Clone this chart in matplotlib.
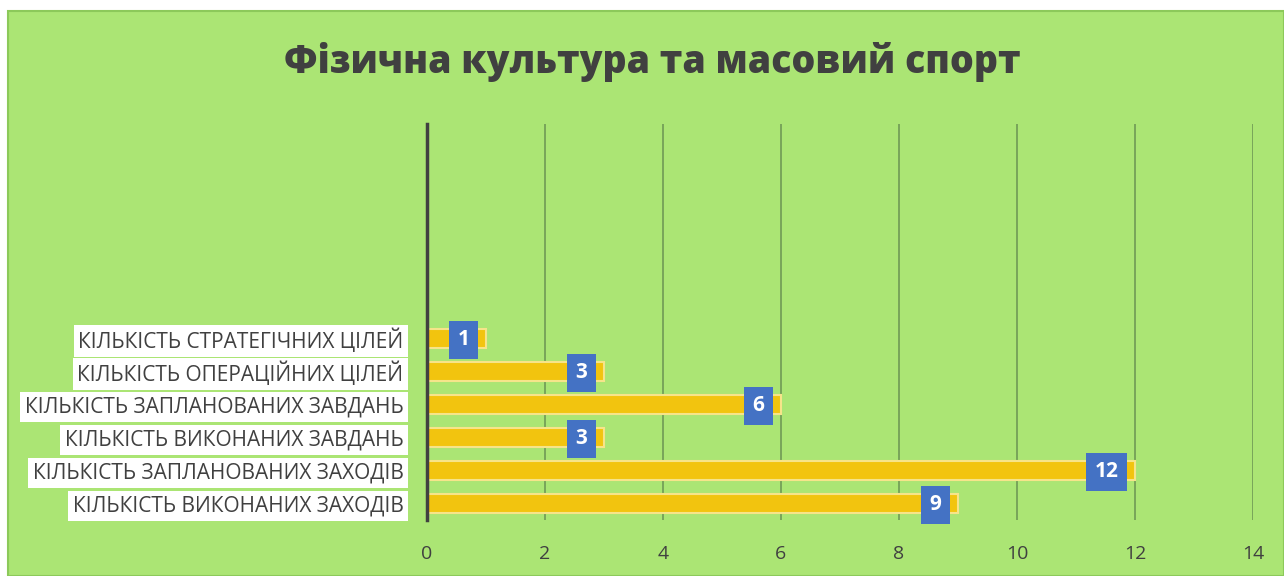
import matplotlib
matplotlib.use("Agg")
import matplotlib.pyplot as plt
from matplotlib.patches import Rectangle

title = "Фізична культура та масовий спорт"
categories = ["КІЛЬКІСТЬ ВИКОНАНИХ ЗАХОДІВ",
              "КІЛЬКІСТЬ ЗАПЛАНОВАНИХ ЗАХОДІВ",
              "КІЛЬКІСТЬ ВИКОНАНИХ ЗАВДАНЬ",
              "КІЛЬКІСТЬ ЗАПЛАНОВАНИХ ЗАВДАНЬ",
              "КІЛЬКІСТЬ ОПЕРАЦІЙНИХ ЦІЛЕЙ",
              "КІЛЬКІСТЬ СТРАТЕГІЧНИХ ЦІЛЕЙ",
              "", "", "", "", "", ""]
values = [9, 12, 3, 6, 3, 1, None, None, None, None, None, None]
xticks = [0, 2, 4, 6, 8, 10, 12, 14]

W, H = 1284, 576
fig = plt.figure(figsize=(W / 100, H / 100), dpi=100, facecolor="white")
green = "#abe574"
bg = Rectangle((8 / W, 0), 1 - 8 / W, 1 - 11 / H, transform=fig.transFigure,
               facecolor=green, edgecolor="#8cc95a", linewidth=1.5, zorder=-10)
fig.patches.append(bg)

ax = fig.add_axes([427 / W, 1 - 520 / H, (1253 - 427) / W, (520 - 124) / H])
ax.set_facecolor("none")
ax.set_zorder(2)

ypos = list(range(len(categories)))
for y, v in zip(ypos, values):
    if v is None:
        continue
    ax.barh(y, v, height=0.55, color="#f2c40f", edgecolor="#f6e48a", linewidth=1.5, zorder=3)
    ax.annotate(str(v), xy=(v, y), xytext=(-12, -1), textcoords="offset points",
                ha="right", va="center", color="white", fontsize=15, fontweight="bold",
                family="Open Sans", zorder=5,
                bbox=dict(boxstyle="square,pad=0.4", facecolor="#4472c4", edgecolor="none"))

ax.set_xlim(0, 14)
ax.set_ylim(-0.5, len(categories) - 0.5)
ax.set_xticks(xticks)
ax.set_xticklabels([str(t) for t in xticks], family="Open Sans", fontsize=14, color="#404040")
ax.set_yticks(ypos)
ax.set_yticklabels(categories, family="Open Sans", fontsize=15, color="#404040")
for lbl in ax.get_yticklabels():
    if lbl.get_text():
        lbl.set_bbox(dict(facecolor="white", edgecolor="none", pad=3))
ax.tick_params(axis="both", length=0)
ax.tick_params(axis="x", pad=18)
ax.tick_params(axis="y", pad=17)
for t in xticks[1:]:
    ax.axvline(t, color="#6f9a55", linewidth=1.2, zorder=1)
for s in ["top", "right", "bottom"]:
    ax.spines[s].set_visible(False)
ax.spines["left"].set_color("#404040")
ax.spines["left"].set_linewidth(2.5)
ax.spines["left"].set_zorder(4)

fig.text(652 / W, 1 - 62 / H, title, ha="center", va="center", fontsize=27,
         fontweight=800, color="#404040", family="Open Sans")

fig.savefig("out.png", dpi=100, facecolor="white")
